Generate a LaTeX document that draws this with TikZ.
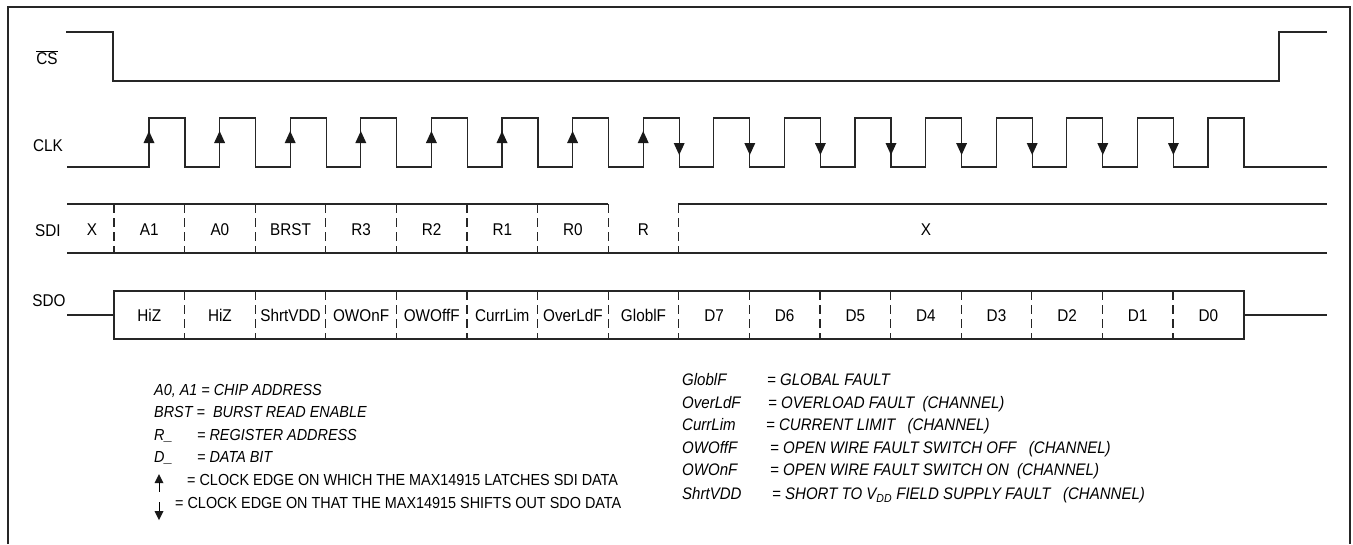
\documentclass[tikz,border=0pt]{standalone}
\usepackage{fontspec}
\setmainfont{Liberation Sans}[FakeStretch=0.9]
\begin{document}
\begin{tikzpicture}[x=1pt,y=-1pt,
  sig/.style={line width=1.1pt, draw=black!85},
  sep/.style={line width=1.1pt, draw=black!85, dash pattern=on 9pt off 5pt},
  lbl/.style={inner sep=0pt, anchor=center, text height=12pt, text depth=0pt, font=\fontsize{17}{20}\selectfont},
  legi/.style={inner sep=0pt, anchor=west, text height=11.5pt, text depth=0pt, font=\fontsize{16}{19}\selectfont\itshape},
  legr/.style={inner sep=0pt, anchor=west, text height=11.5pt, text depth=0pt, font=\fontsize{16.7}{19}\selectfont\itshape},
  legu/.style={inner sep=0pt, anchor=west, text height=11.5pt, text depth=0pt, font=\fontsize{16}{19}\selectfont},
  tip/.style={fill=black!90}]
\useasboundingbox (0,0) rectangle (1353,544);
\draw[line width=2pt, draw=black!85] (8,544) -- (8,7) -- (1350,7) -- (1350,544);

% signal names
\node[lbl] (ncs) at (47,58) {$\overline{\hbox{CS}}$};
\node[lbl] (nclk) at (48,145) {CLK};
\node[lbl] (nsdi) at (48,230) {SDI};
\node[lbl] (nsdo) at (49,300) {SDO};

% CS
\draw[sig] (66,32) -- (113,32) -- (113,81) -- (1279,81) -- (1279,32) -- (1327,32);

% CLK
\draw[sig] (67,167) \foreach \k in {0,...,15}{ -- ({149+70.6*\k},167) -- ({149+70.6*\k},118) -- ({185+70.6*\k},118) -- ({185+70.6*\k},167)} -- (1327,167);
\foreach \k in {0,...,7} \fill[tip] ({149+70.6*\k},131) -- ++(-5.5,12) -- ++(11,0) -- cycle;
\foreach \k in {7,...,14} \fill[tip] ({185+70.6*\k},155) -- ++(-5.5,-12) -- ++(11,0) -- cycle;

% SDI
\draw[sig] (67,204) -- (608,204);
\draw[sig] (678,204) -- (1327,204);
\draw[sig] (67,253) -- (1327,253);
\foreach \k in {0,...,8} \draw[sep] ({114+70.6*\k},204) -- ++(0,49);
\node[lbl] (sx) at (92,229) {X};
\foreach \t [count=\i from 0] in {A1,A0,BRST,R3,R2,R1,R0,R}
  \node[lbl] (sdi\i) at ({149.3+70.6*\i},229) {\t};
\node[lbl] (sx2) at (926,229) {X};

% SDO
\draw[sig] (67,315) -- (114,315);
\draw[sig] (114,291) rectangle (1244,339);
\draw[sig] (1244,315) -- (1327,315);
\foreach \k in {1,...,15} \draw[sep] ({114+70.6*\k},291) -- ++(0,48);
\foreach \t [count=\i from 0] in {HiZ,HiZ,ShrtVDD,OWOnF,OWOffF,CurrLim,OverLdF,GloblF,D7,D6,D5,D4,D3,D2,D1,D0}
  \node[lbl] (sdo\i) at ({149.3+70.6*\i},315) {\t};

% legend left
\node[legi] (l1) at (154,390) {A0, A1 = CHIP ADDRESS};
\node[legi] (l2) at (154,412) {BRST =\ \ BURST READ ENABLE};
\node[legi] (l3a) at (154,434.5) {R\_};
\node[legi] (l3b) at (197,434.5) {= REGISTER ADDRESS};
\node[legi] (l4a) at (154,457) {D\_};
\node[legi] (l4b) at (197,457) {= DATA BIT};
\fill[tip] (159,474) -- ++(-4.5,9) -- ++(9,0) -- cycle;
\draw[line width=1pt] (159,482) -- (159,492);
\node[legu] (l5) at (187,480) {= CLOCK EDGE ON WHICH THE MAX14915 LATCHES SDI DATA};
\draw[line width=1pt] (159,502) -- (159,512);
\fill[tip] (159,520) -- ++(-4.5,-9) -- ++(9,0) -- cycle;
\node[legu] (l6) at (175,503) {= CLOCK EDGE ON THAT THE MAX14915 SHIFTS OUT SDO DATA};

% legend right
\node[legr] (r1a) at (682,380) {GloblF};
\node[legr] (r1b) at (767,380) {= GLOBAL FAULT};
\node[legr] (r2a) at (682,402.5) {OverLdF};
\node[legr] (r2b) at (768,402.5) {= OVERLOAD FAULT\ \ (CHANNEL)};
\node[legr] (r3a) at (682,425) {CurrLim};
\node[legr] (r3b) at (766,425) {= CURRENT LIMIT\ \ \ (CHANNEL)};
\node[legr] (r4a) at (682,447.5) {OWOffF};
\node[legr] (r4b) at (770,447.5) {= OPEN WIRE FAULT SWITCH OFF\ \ \ (CHANNEL)};
\node[legr] (r5a) at (682,470) {OWOnF};
\node[legr] (r5b) at (770,470) {= OPEN WIRE FAULT SWITCH ON\ \ (CHANNEL)};
\node[legr] (r6a) at (682,494) {ShrtVDD};
\node[legr] (r6b) at (772,494) {= SHORT TO V\textsubscript{DD} FIELD SUPPLY FAULT\ \ \ (CHANNEL)};
\end{tikzpicture}
\end{document}
